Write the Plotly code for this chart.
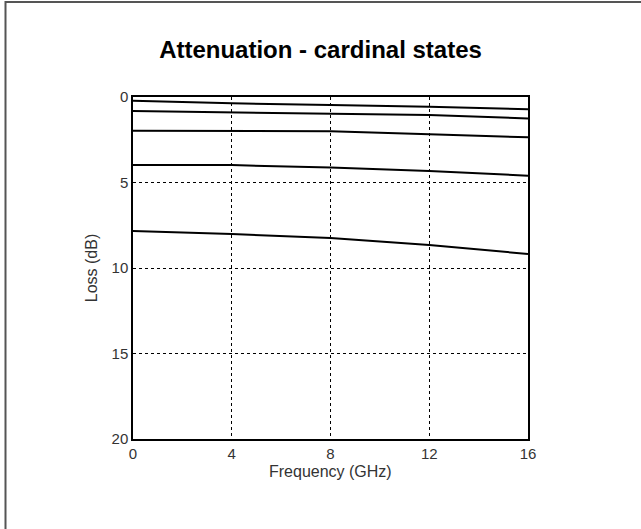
import plotly.graph_objects as go

freq_ghz = [0, 4, 8, 12, 16]

loss_state_1 = [0.22, 0.37, 0.47, 0.57, 0.72]
loss_state_2 = [0.82, 0.90, 0.95, 1.05, 1.25]
loss_state_3 = [1.97, 1.97, 2.00, 2.18, 2.36]
loss_state_4 = [3.98, 3.98, 4.13, 4.33, 4.60]
loss_state_5 = [7.84, 8.01, 8.25, 8.65, 9.18]

x_ticks = [0, 4, 8, 12, 16]
y_ticks = [0, 5, 10, 15, 20]


fig = go.Figure()

for ys in [loss_state_1, loss_state_2, loss_state_3, loss_state_4, loss_state_5]:
    fig.add_trace(go.Scatter(
        x=freq_ghz,
        y=ys,
        mode="lines",
        line=dict(color="black", width=2),
        showlegend=False,
        hoverinfo="skip",
    ))

axis_style = dict(
    showline=True,
    linecolor="black",
    linewidth=1.5,
    mirror=True,
    showgrid=True,
    gridcolor="black",
    gridwidth=1,
    griddash="dot",
    zeroline=False,
    ticks="",
    tickfont=dict(family="Arial", size=15, color="#333333"),
)

fig.update_layout(
    width=641,
    height=529,
    margin=dict(l=133, r=113, t=97, b=90),
    paper_bgcolor="white",
    plot_bgcolor="white",
    title=dict(
        text="<b>Attenuation - cardinal states</b>",
        x=0.5,
        xanchor="center",
        y=1 - 50 / 529,
        yanchor="middle",
        font=dict(family="Arial", size=24, color="black"),
    ),
    xaxis=dict(axis_style, range=[0, 16], tickvals=x_ticks),
    yaxis=dict(
        axis_style,
        range=[20, 0],
        tickvals=y_ticks,
        title=dict(text="Loss (dB)", standoff=10,
                   font=dict(family="Arial", size=16, color="#333333")),
    ),
)

fig.add_annotation(
    text="Frequency (GHz)",
    xref="paper", yref="paper",
    x=0.5, y=(439 - 461) / 342,
    xanchor="center", yanchor="top",
    showarrow=False,
    font=dict(family="Arial", size=16, color="#333333"),
)

# outer frame (only top and left edges are visible)
fig.add_shape(type="line", xref="paper", yref="paper",
              x0=(5.5 - 133) / 395, x1=(645 - 133) / 395,
              y0=(439 - 2) / 342, y1=(439 - 2) / 342,
              line=dict(color="#555555", width=2))
fig.add_shape(type="line", xref="paper", yref="paper",
              x0=(5.5 - 133) / 395, x1=(5.5 - 133) / 395,
              y0=(439 - 1) / 342, y1=(439 - 535) / 342,
              line=dict(color="#555555", width=2))

fig.write_html(
    "out.html",
    config={"displayModeBar": False},
    post_script="document.body.style.margin='0';",
)
